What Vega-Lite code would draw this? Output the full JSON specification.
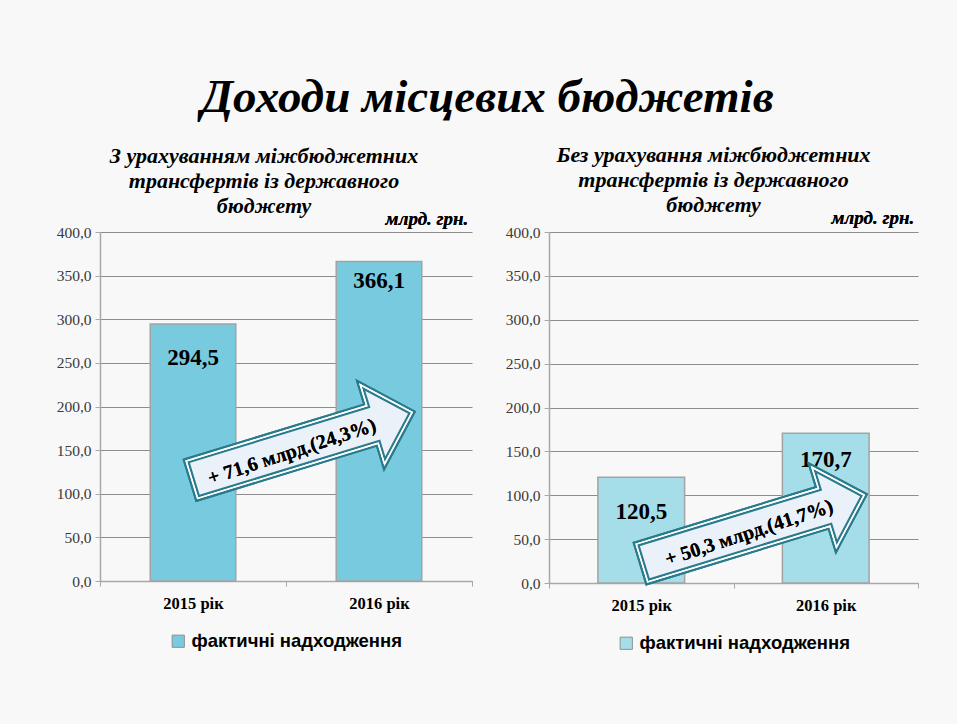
{
  "$schema": "https://vega.github.io/schema/vega-lite/v6.json",
  "background": "#f8f8f8",
  "padding": {"left": 56, "top": 74, "right": 42, "bottom": 72},
  "title": {
    "text": "Доходи місцевих бюджетів",
    "font": "Liberation Serif",
    "fontSize": 47,
    "fontStyle": "italic",
    "fontWeight": "bold",
    "color": "#000000",
    "anchor": "middle",
    "offset": 22
  },
  "config": {
    "view": {"stroke": null},
    "legend": {"layout": {"bottom": {"anchor": "middle"}}},
    "axisY": {
      "title": null, "domainColor": "#a8a8a8", "domainWidth": 1.5, "gridColor": "#8c8c8c", "gridWidth": 1,
      "tickColor": "#a8a8a8", "tickSize": 5, "labelFont": "Liberation Serif", "labelFontSize": 15.5,
      "labelColor": "#3a3a3a", "labelPadding": 4
    },
    "axisX": {
      "title": null, "labelAngle": 0, "domainColor": "#a8a8a8", "domainWidth": 1.5, "tickColor": "#a8a8a8", "tickSize": 5,
      "tickBand": "extent", "labelFont": "Liberation Serif", "labelFontSize": 16.5, "labelFontWeight": "bold",
      "labelColor": "#000000", "labelPadding": 9, "grid": false
    }
  },
  "resolve": {"scale": {"color": "independent"}, "legend": {"color": "independent"}},
  "spacing": 32,
  "hconcat": [
    {
      "width": 372,
      "height": 349,
      "title": {
        "text": ["З урахуванням  міжбюджетних", "трансфертів із державного", "бюджету"],
        "font": "Liberation Serif", "fontSize": 22, "fontStyle": "italic", "fontWeight": "bold",
        "lineHeight": 25, "anchor": "middle", "dx": -22, "offset": -8, "color": "#000000"
      },
      "data": {"values": [
        {"year": "2015 рік", "value": 294.5, "label": "294,5"},
        {"year": "2016 рік", "value": 366.1, "label": "366,1"}
      ]},
      "layer": [
        {
          "mark": {"type": "bar", "width": {"band": 0.46}, "stroke": "#a3a3a3", "strokeWidth": 1.5},
          "encoding": {
            "x": {"field": "year", "type": "nominal", "sort": null, "scale": {"paddingInner": 0, "paddingOuter": 0}},
            "y": {"field": "value", "type": "quantitative", "scale": {"domain": [0, 400], "nice": false},
                  "axis": {"values": [0,50,100,150,200,250,300,350,400],
                           "labelFont": "Liberation Serif", "labelFontSize": 15.5, "labelColor": "#3a3a3a",
                           "labelExpr": "replace(format(datum.value, '.1f'), '.', ',')"}},
            "color": {"datum": "фактичні надходження", "type": "nominal",
                      "scale": {"range": ["#78CADF"]},
                      "legend": {"orient": "bottom", "title": null, "symbolType": "square", "symbolSize": 150,
                                 "symbolStrokeColor": "#909090", "symbolStrokeWidth": 1, "symbolOpacity": 1,
                                 "labelFont": "Liberation Sans", "labelFontSize": 18.5, "labelFontWeight": "bold",
                                 "labelColor": "#000000", "labelLimit": 400, "offset": 20}}
          }
        },
        {
          "transform": [{"filter": "datum.year == '2015 рік'"}],
          "mark": {"type": "text", "font": "Liberation Serif", "fontSize": 23, "fontWeight": "bold", "baseline": "middle", "dy": 34, "color": "#000000"},
          "encoding": {
            "x": {"field": "year", "type": "nominal", "sort": null},
            "y": {"field": "value", "type": "quantitative"},
            "text": {"field": "label"}
          }
        },
        {
          "transform": [{"filter": "datum.year == '2016 рік'"}],
          "mark": {"type": "text", "font": "Liberation Serif", "fontSize": 23, "fontWeight": "bold", "baseline": "middle", "dy": 19, "color": "#000000"},
          "encoding": {
            "x": {"field": "year", "type": "nominal", "sort": null},
            "y": {"field": "value", "type": "quantitative"},
            "text": {"field": "label"}
          }
        },
        {
          "mark": {"type": "text", "text": "млрд. грн.", "font": "Liberation Serif", "fontSize": 19, "fontStyle": "italic", "fontWeight": "bold", "dy": -13, "color": "#000000", "baseline": "middle"},
          "encoding": {
            "x": {"datum": "2016 рік", "type": "nominal", "bandPosition": 0.758},
            "y": {"datum": 400, "type": "quantitative"}
          }
        },
        {
          "mark": {"type": "point", "shape": "M -1 -0.17 L 0.64 -0.17 L 0.64 -0.36 L 1 0 L 0.64 0.36 L 0.64 0.17 L -1 0.17 Z", "size": 53000, "angle": -17, "filled": true, "fill": "#eaf1f9", "stroke": "#2a7b8c", "strokeWidth": 6, "opacity": 1},
          "encoding": {
            "x": {"datum": "2015 рік", "type": "nominal", "bandPosition": 1.086},
            "y": {"datum": 154.7, "type": "quantitative"}
          }
        },
        {
          "mark": {"type": "point", "shape": "M -1 -0.17 L 0.64 -0.17 L 0.64 -0.36 L 1 0 L 0.64 0.36 L 0.64 0.17 L -1 0.17 Z", "size": 53000, "angle": -17, "filled": false, "fill": null, "stroke": "#ffffff", "strokeWidth": 1.5, "opacity": 1},
          "encoding": {
            "x": {"datum": "2015 рік", "type": "nominal", "bandPosition": 1.086},
            "y": {"datum": 154.7, "type": "quantitative"}
          }
        },
        {
          "mark": {"type": "text", "text": "+ 71,6 млрд.(24,3%)", "font": "Liberation Serif", "fontSize": 20, "fontWeight": "bold", "angle": -18, "color": "#000000", "baseline": "middle", "align": "center"},
          "encoding": {
            "x": {"datum": "2015 рік", "type": "nominal", "bandPosition": 1.032},
            "y": {"datum": 147.9, "type": "quantitative"}
          }
        }
      ]
    },
    {
      "width": 369,
      "height": 351,
      "title": {
        "text": ["Без урахування  міжбюджетних", "трансфертів із державного", "бюджету"],
        "font": "Liberation Serif", "fontSize": 22, "fontStyle": "italic", "fontWeight": "bold",
        "lineHeight": 25, "anchor": "middle", "dx": -20, "offset": -8, "color": "#000000"
      },
      "data": {"values": [
        {"year": "2015 рік", "value": 120.5, "label": "120,5"},
        {"year": "2016 рік", "value": 170.7, "label": "170,7"}
      ]},
      "layer": [
        {
          "mark": {"type": "bar", "width": {"band": 0.47}, "stroke": "#a3a3a3", "strokeWidth": 1.5},
          "encoding": {
            "x": {"field": "year", "type": "nominal", "sort": null, "scale": {"paddingInner": 0, "paddingOuter": 0}},
            "y": {"field": "value", "type": "quantitative", "scale": {"domain": [0, 400], "nice": false},
                  "axis": {"values": [0,50,100,150,200,250,300,350,400],
                           "labelFont": "Liberation Serif", "labelFontSize": 15.5, "labelColor": "#3a3a3a",
                           "labelExpr": "replace(format(datum.value, '.1f'), '.', ',')"}},
            "color": {"datum": "фактичні надходження", "type": "nominal",
                      "scale": {"range": ["#A5DDE9"]},
                      "legend": {"orient": "bottom", "title": null, "symbolType": "square", "symbolSize": 150,
                                 "symbolStrokeColor": "#909090", "symbolStrokeWidth": 1, "symbolOpacity": 1,
                                 "labelFont": "Liberation Sans", "labelFontSize": 18.5, "labelFontWeight": "bold",
                                 "labelColor": "#000000", "labelLimit": 400, "offset": 20}}
          }
        },
        {
          "transform": [{"filter": "datum.year == '2015 рік'"}],
          "mark": {"type": "text", "font": "Liberation Serif", "fontSize": 23, "fontWeight": "bold", "baseline": "middle", "dy": 35, "color": "#000000"},
          "encoding": {
            "x": {"field": "year", "type": "nominal", "sort": null},
            "y": {"field": "value", "type": "quantitative"},
            "text": {"field": "label"}
          }
        },
        {
          "transform": [{"filter": "datum.year == '2016 рік'"}],
          "mark": {"type": "text", "font": "Liberation Serif", "fontSize": 23, "fontWeight": "bold", "baseline": "middle", "dy": 27, "color": "#000000"},
          "encoding": {
            "x": {"field": "year", "type": "nominal", "sort": null},
            "y": {"field": "value", "type": "quantitative"},
            "text": {"field": "label"}
          }
        },
        {
          "mark": {"type": "text", "text": "млрд. грн.", "font": "Liberation Serif", "fontSize": 19, "fontStyle": "italic", "fontWeight": "bold", "dy": -14, "color": "#000000", "baseline": "middle"},
          "encoding": {
            "x": {"datum": "2016 рік", "type": "nominal", "bandPosition": 0.756},
            "y": {"datum": 400, "type": "quantitative"}
          }
        },
        {
          "mark": {"type": "point", "shape": "M -1 -0.17 L 0.64 -0.17 L 0.64 -0.36 L 1 0 L 0.64 0.36 L 0.64 0.17 L -1 0.17 Z", "size": 54000, "angle": -17, "filled": true, "fill": "#eaf1f9", "stroke": "#2a7b8c", "strokeWidth": 6, "opacity": 1},
          "encoding": {
            "x": {"datum": "2015 рік", "type": "nominal", "bandPosition": 1.106},
            "y": {"datum": 61.5, "type": "quantitative"}
          }
        },
        {
          "mark": {"type": "point", "shape": "M -1 -0.17 L 0.64 -0.17 L 0.64 -0.36 L 1 0 L 0.64 0.36 L 0.64 0.17 L -1 0.17 Z", "size": 54000, "angle": -17, "filled": false, "fill": null, "stroke": "#ffffff", "strokeWidth": 1.5, "opacity": 1},
          "encoding": {
            "x": {"datum": "2015 рік", "type": "nominal", "bandPosition": 1.106},
            "y": {"datum": 61.5, "type": "quantitative"}
          }
        },
        {
          "mark": {"type": "text", "text": "+ 50,3 млрд.(41,7%)", "font": "Liberation Serif", "fontSize": 20, "fontWeight": "bold", "angle": -18, "color": "#000000", "baseline": "middle", "align": "center"},
          "encoding": {
            "x": {"datum": "2015 рік", "type": "nominal", "bandPosition": 1.084},
            "y": {"datum": 57, "type": "quantitative"}
          }
        }
      ]
    }
  ]
}
